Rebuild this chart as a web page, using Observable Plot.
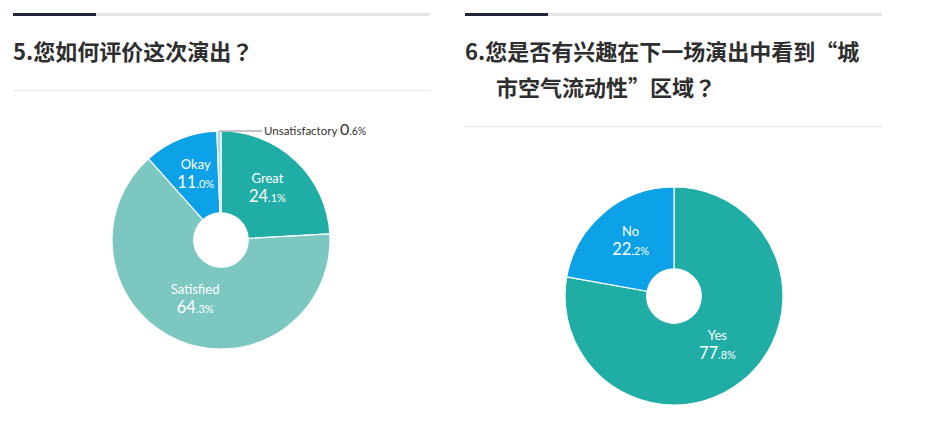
<!DOCTYPE html>
<html><head><meta charset="utf-8">
<script src="https://cdn.jsdelivr.net/npm/d3@7"></script>
<script src="https://cdn.jsdelivr.net/npm/@observablehq/plot@0.6"></script>
<style>
html,body{margin:0;padding:0;background:#fff}
body{width:931px;height:422px;overflow:hidden;position:relative;font-family:"Noto Sans CJK SC","Noto Sans",sans-serif}
.panel{position:absolute;top:0;width:417px;height:422px}
.rule{position:absolute;top:13px;left:0;width:417px;height:3px;background:#e6e6e6}
.rule i{position:absolute;left:0;top:0;width:83px;height:3px;background:#23263b}
.title{position:absolute;top:32px;left:0;width:417px;font-weight:700;font-size:22px;color:#2e2e2e;line-height:36px;padding-left:31px;text-indent:-31px;box-sizing:border-box}
.title .q{font-family:"Noto Sans CJK JP","Noto Sans CJK SC",sans-serif}
.sep{position:absolute;left:0;width:417px;height:1px;background:#e9e9e9}
.chart{position:absolute;left:0}
</style>
</head><body>
<div class="panel" id="p5" style="left:13px">
  <div class="rule"><i></i></div>
  <div class="title">5.您如何评价这次演出<span class="q">？</span></div>
  <div class="sep" style="top:90px"></div>
  <div class="chart" id="c5" style="top:92px"></div>
</div>
<div class="panel" id="p6" style="left:465px">
  <div class="rule"><i></i></div>
  <div class="title">6.您是否有兴趣在下一场演出中看到“城<br>市空气流动性”区域<span class="q">？</span></div>
  <div class="sep" style="top:126px"></div>
  <div class="chart" id="c6" style="top:127px"></div>
</div>
<script>
// ---- data ----
const q5Categories = ["Great", "Satisfied", "Okay", "Unsatisfactory"];
const q5Values = [24.1, 64.3, 11.0, 0.6];
const q6Categories = ["Yes", "No"];
const q6Values = [77.8, 22.2];

// ---- styling (kept apart from data) ----
const colorMap = {
  Great: "#1fada6", Satisfied: "#7dc7c1", Okay: "#0da1e7", Unsatisfactory: "#a6d8f2",
  Yes: "#1fada6", No: "#0da1e7"
};
const HOLE = 0.25;       // inner radius / outer radius
const LABEL_R = 0.62;    // label radius / outer radius
const OUTSIDE_MIN = 3;   // slices below this % get an outside label
const LABEL_FONT = "Lato, 'Noto Sans', sans-serif";

function donut(categories, values, {width, height, cx, cy, R}) {
  const data = categories.map((c, i) => ({label: c, value: values[i]}));
  const arcs = d3.pie().sort(null).value(d => d.value)(data);
  data.forEach((d, i) => {
    const a = arcs[i];
    const mid = (a.startAngle + a.endAngle) / 2;
    d.arc = a;
    d.mid = mid;
    d.inside = d.value >= OUTSIDE_MIN;
    d.lx = LABEL_R * Math.sin(mid);
    d.ly = LABEL_R * Math.cos(mid);
    const [ip, dp] = d.value.toFixed(1).split(".");
    d.intPart = ip;
    d.decPart = "." + dp + "%";
  });
  const inside = data.filter(d => d.inside);
  const outside = data.filter(d => !d.inside);

  return Plot.plot({
    width, height,
    margin: 0,
    x: {domain: [-1, 1], range: [cx - R, cx + R], axis: null},
    y: {domain: [-1, 1], range: [cy + R, cy - R], axis: null},
    color: {domain: Object.keys(colorMap), range: Object.values(colorMap)},
    style: {background: "transparent", overflow: "visible"},
    marks: [
      // wedges
      Plot.dot(data, {
        x: () => 0, y: () => 0, fill: "label",
        render: (index, scales, values) => {
          const x0 = scales.x(0), y0 = scales.y(0);
          const rad = scales.x(1) - scales.x(0);
          const arc = d3.arc().innerRadius(rad * HOLE).outerRadius(rad);
          const g = d3.create("svg:g").attr("transform", `translate(${x0},${y0})`);
          g.selectAll("path").data(index).join("path")
            .attr("d", i => arc(data[i].arc))
            .attr("fill", i => values.fill[i])
            .attr("stroke", "#fff")
            .attr("stroke-width", 1.2)
            .attr("stroke-linejoin", "round");
          return g.node();
        }
      }),
      // inside labels: name on first line, big integer + small decimal on second
      Plot.text(inside, {
        x: "lx", y: "ly", text: "label",
        render: (index, scales, values) => {
          const g = d3.create("svg:g")
            .attr("font-family", LABEL_FONT)
            .attr("fill", "#fff");
          const t = g.selectAll("text").data(index).join("text")
            .attr("x", i => values.x[i])
            .attr("y", i => values.y[i] - 8)
            .attr("text-anchor", "middle");
          t.append("tspan").attr("font-size", 13).text(i => inside[i].label);
          t.append("tspan").attr("x", i => values.x[i]).attr("dy", 19)
            .attr("font-size", 16.5).text(i => inside[i].intPart);
          t.append("tspan").attr("font-size", 11).text(i => inside[i].decPart);
          return g.node();
        }
      }),
      // outside labels with leader line
      Plot.text(outside, {
        x: d => Math.sin(d.mid), y: d => Math.cos(d.mid), text: "label",
        render: (index, scales, values) => {
          const g = d3.create("svg:g")
            .attr("font-family", LABEL_FONT);
          const x0 = scales.x(0);
          index.forEach(i => {
            const px = values.x[i], py = values.y[i];
            const ex = x0 + 41;
            g.append("path")
              .attr("d", `M${px},${py}L${ex},${py}`)
              .attr("stroke", "#8a8a8a").attr("stroke-width", 1).attr("fill", "none");
            const t = g.append("text")
              .attr("x", ex + 2).attr("y", py + 4)
              .attr("text-anchor", "start")
              .attr("fill", "#333");
            t.append("tspan").attr("font-size", 11.5).text(outside[i].label + " ");
            t.append("tspan").attr("font-size", 16).text(outside[i].intPart);
            t.append("tspan").attr("font-size", 10.5).text(outside[i].decPart);
          });
          return g.node();
        }
      })
    ]
  });
}

document.getElementById("c5").append(
  donut(q5Categories, q5Values, {width: 417, height: 330, cx: 208, cy: 148, R: 109})
);
document.getElementById("c6").append(
  donut(q6Categories, q6Values, {width: 417, height: 295, cx: 209, cy: 169, R: 109})
);
</script>
</body></html>
